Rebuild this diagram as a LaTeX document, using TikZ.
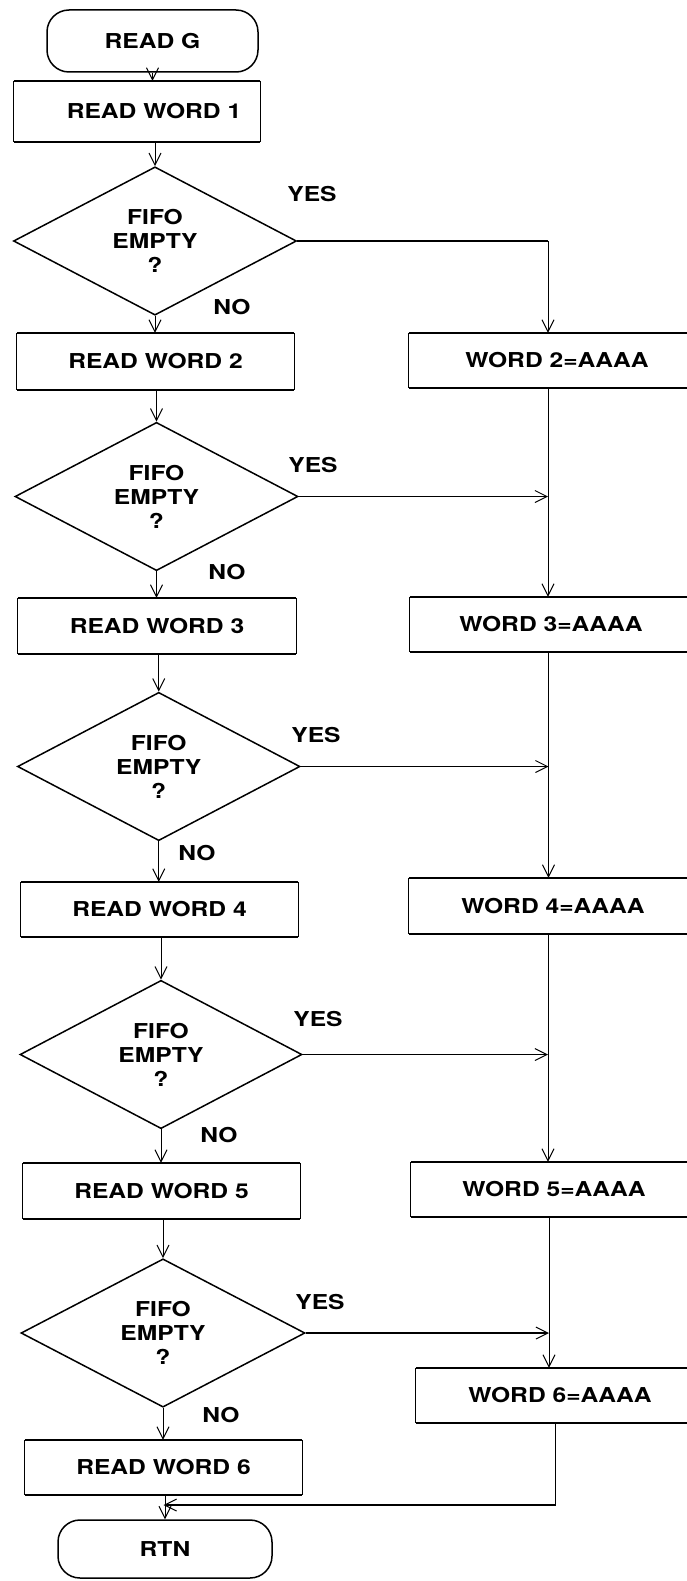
\documentclass[tikz,border=0pt]{standalone}
\usepackage{fontspec}
\newfontfamily\hv{TeX Gyre Heros}[FakeStretch=1.2]
\usetikzlibrary{shapes.geometric,arrows.meta}
\begin{document}
\begin{tikzpicture}[x=1pt,y=-1pt,
  every node/.style={font=\hv\bfseries\fontsize{20.5}{24}\selectfont, text=black},
  boxn/.style={draw=none, inner sep=0pt, minimum width=#1},
  hl/.style={line width=2pt},
  vl/.style={line width=1pt},
  dia/.style={diamond, draw, line width=1.5pt, inner sep=0pt, align=center},
  term/.style={rectangle, rounded corners=22pt, draw, line width=1.5pt, inner sep=0pt},
  arr/.style={-{Straight Barb[length=12pt,width=12pt,line width=1pt]}, line width=1pt},
  flow/.style={line width=1pt},
  hflow/.style={line width=1.8pt},
  lab/.style={inner sep=0pt}
]
\useasboundingbox (0,0) rectangle (687,1581);

% left column
\node[term, minimum width=211pt, minimum height=62pt] (readg) at (152.5,41) {READ G};
\node[boxn=246pt, minimum height=61pt] (w1) at (137,111.5) {\hspace*{34pt}READ WORD 1};
\node[dia, minimum width=283pt, minimum height=144pt] (d1) at (155,241) {FIFO\\EMPTY\\?};
\node[boxn=277pt, minimum height=57pt] (w2) at (155.5,361.5) {READ WORD 2};
\node[dia, minimum width=283pt, minimum height=147pt] (d2) at (156.5,496.5) {FIFO\\EMPTY\\?};
\node[boxn=278pt, minimum height=56pt] (w3) at (157,626) {READ WORD 3};
\node[dia, minimum width=282.5pt, minimum height=147pt] (d3) at (158.75,766.5) {FIFO\\EMPTY\\?};
\node[boxn=277pt, minimum height=55pt] (w4) at (159.5,909.5) {READ WORD 4};
\node[dia, minimum width=282pt, minimum height=145pt] (d4) at (161,1054.5) {FIFO\\EMPTY\\?};
\node[boxn=277pt, minimum height=56pt] (w5) at (161.5,1191) {READ WORD 5};
\node[dia, minimum width=284pt, minimum height=146pt] (d5) at (163,1333) {FIFO\\EMPTY\\?};
\node[boxn=277pt, minimum height=55pt] (w6) at (163.5,1467.5) {READ WORD 6};
\node[term, minimum width=214pt, minimum height=58pt] (rtn) at (165,1549) {RTN};

% right column
\node[boxn=278pt, minimum height=55pt] (r2) at (548,360.5) {\hspace*{18pt}WORD 2=AAAA};
\node[boxn=277pt, minimum height=55pt] (r3) at (548.5,624.5) {\hspace*{5pt}WORD 3=AAAA};
\node[boxn=278pt, minimum height=56pt] (r4) at (548,906) {\hspace*{10pt}WORD 4=AAAA};
\node[boxn=276pt, minimum height=55pt] (r5) at (549,1189.5) {\hspace*{10pt}WORD 5=AAAA};
\node[boxn=271pt, minimum height=55pt] (r6) at (551.5,1395.5) {\hspace*{17pt}WORD 6=AAAA};

% box outlines
\foreach \n in {w1,w2,w3,w4,w5,w6}{
  \draw[hl] (\n.north west) -- (\n.north east);
  \draw[hl] (\n.south west) -- (\n.south east);
  \draw[vl] (\n.north west) -- (\n.south west);
  \draw[vl] (\n.north east) -- (\n.south east);
}
\foreach \n in {r2,r3,r4,r5,r6}{
  \draw[hl] (\n.north west) -- (\n.north east);
  \draw[hl] (\n.south west) -- (\n.south east);
  \draw[vl] (\n.north west) -- (\n.south west);
}

% labels
\node[lab] (y1) at (312,194) {YES};
\node[lab] (n1) at (232,307) {NO};
\node[lab] (y2) at (313,465) {YES};
\node[lab] (n2) at (227,572) {NO};
\node[lab] (y3) at (316,735) {YES};
\node[lab] (n3) at (197,853) {NO};
\node[lab] (y4) at (318,1019) {YES};
\node[lab] (n4) at (219,1135) {NO};
\node[lab] (y5) at (320,1302) {YES};
\node[lab] (n5) at (221,1415) {NO};

% main flow
\draw[arr] (readg.south) -- (readg.south |- w1.north);
\draw[arr] (w1.south -| d1.north) -- (d1.north);
\draw[arr] (d1.south) -- (d1.south |- w2.north);
\draw[arr] (w2.south -| d2.north) -- (d2.north);
\draw[arr] (d2.south) -- (d2.south |- w3.north);
\draw[arr] (w3.south -| d3.north) -- (d3.north);
\draw[arr] (d3.south) -- (d3.south |- w4.north);
\draw[arr] (w4.south -| d4.north) -- (d4.north);
\draw[arr] (d4.south) -- (d4.south |- w5.north);
\draw[arr] (w5.south -| d5.north) -- (d5.north);
\draw[arr] (d5.south) -- (d5.south |- w6.north);
\draw[arr] (w6.south -| rtn.north) -- (rtn.north);

% yes branches
\draw[hflow] (d1.east) -- (d1.east -| r2.north);
\draw[arr] (d1.east -| r2.north) -- (r2.north);
\draw[arr, line width=1.8pt] (d2.east) -- (d2.east -| r2.south);
\draw[arr, line width=1.8pt] (d3.east) -- (d3.east -| r3.south);
\draw[arr, line width=1.8pt] (d4.east) -- (d4.east -| r4.south);
\draw[arr, line width=1.8pt] (d5.east) -- (d5.east -| r5.south);

% right column verticals
\draw[arr] (r2.south) -- (r2.south |- r3.north);
\draw[arr] (r3.south) -- (r3.south |- r4.north);
\draw[arr] (r4.south) -- (r4.south |- r5.north);
\draw[arr] (r5.south) -- (r5.south |- r6.north);

% return
\coordinate (ret) at (163.5,1505);
\draw[flow] ([xshift=4pt]r6.south) -- ([xshift=4pt]r6.south |- ret);
\draw[arr, line width=1.8pt] ([xshift=4pt]r6.south |- ret) -- (ret);
\end{tikzpicture}
\end{document}
